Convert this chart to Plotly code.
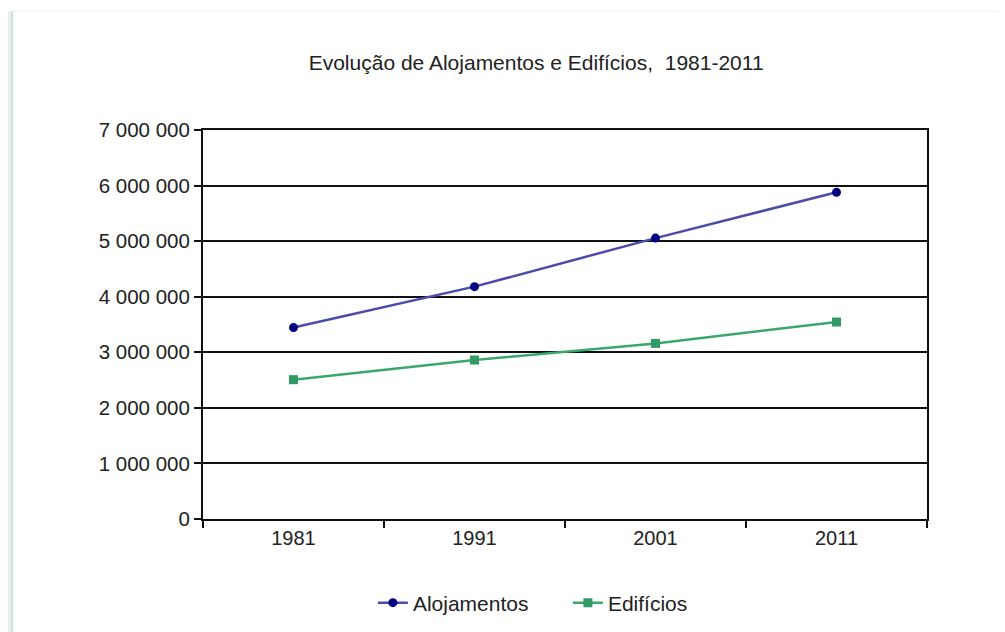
import plotly.graph_objects as go

years = ["1981", "1991", "2001", "2011"]
alojamentos = [3445000, 4181000, 5054922, 5878756]
edificios = [2507000, 2861000, 3160043, 3544389]
y_ticks = [0, 1000000, 2000000, 3000000, 4000000, 5000000, 6000000, 7000000]
y_labels = ["0", "1 000 000", "2 000 000", "3 000 000", "4 000 000", "5 000 000", "6 000 000", "7 000 000"]

fig = go.Figure()
fig.add_trace(go.Scatter(
    x=years, y=alojamentos, name="Alojamentos", mode="lines+markers",
    line=dict(color="#4b4baa", width=2.5),
    marker=dict(color="#000080", size=9, symbol="circle"),
))
fig.add_trace(go.Scatter(
    x=years, y=edificios, name="Edifícios", mode="lines+markers",
    line=dict(color="#3aa86c", width=2.5),
    marker=dict(color="#339966", size=9, symbol="square"),
))

fig.update_layout(
    width=1005, height=632,
    margin=dict(l=195, r=86, t=122, b=121),
    paper_bgcolor="white", plot_bgcolor="white",
    font=dict(family="Liberation Sans, Arial, sans-serif", color="#222222", size=20),
    title=dict(text="Evolução de Alojamentos e Edifícios,  1981-2011",
               x=0.5255, xanchor="center", y=0.913, yanchor="middle",
               font=dict(size=21, color="#222222")),
    showlegend=True,
    legend=dict(orientation="h", x=0.504, xanchor="center", y=-0.216, yanchor="middle",
                font=dict(size=21), traceorder="normal", entrywidth=150),
    xaxis=dict(type="category", tickson="boundaries", ticks="outside", ticklen=7,
               tickwidth=2, tickcolor="#111", showline=True, linecolor="#111", linewidth=2,
               mirror=True, showgrid=False, tickfont=dict(size=20), range=[-0.5, 3.5]),
    yaxis=dict(range=[0, 7000000], tickvals=y_ticks, ticktext=y_labels, ticks="outside",
               ticklen=7, tickwidth=2, tickcolor="#111", showline=True, linecolor="#111",
               linewidth=2, mirror=True, showgrid=True, gridcolor="#111", gridwidth=2,
               zeroline=False, tickfont=dict(size=20.5)),
    shapes=[
        dict(type="rect", xref="paper", yref="paper", x0=-0.28, x1=-0.2645, y0=1.306, y1=-0.33,
             fillcolor="#eeeeee", line=dict(width=0), layer="below"),
        dict(type="line", xref="paper", yref="paper", x0=-0.2638, x1=1.12, y0=1.306, y1=1.306,
             line=dict(color="#eeeeee", width=1)),
        dict(type="line", xref="paper", yref="paper", x0=-0.2638, x1=-0.2638, y0=1.306, y1=-0.33,
             line=dict(color="#c4e6dc", width=2)),
    ],
)

fig.write_html("out.html")
